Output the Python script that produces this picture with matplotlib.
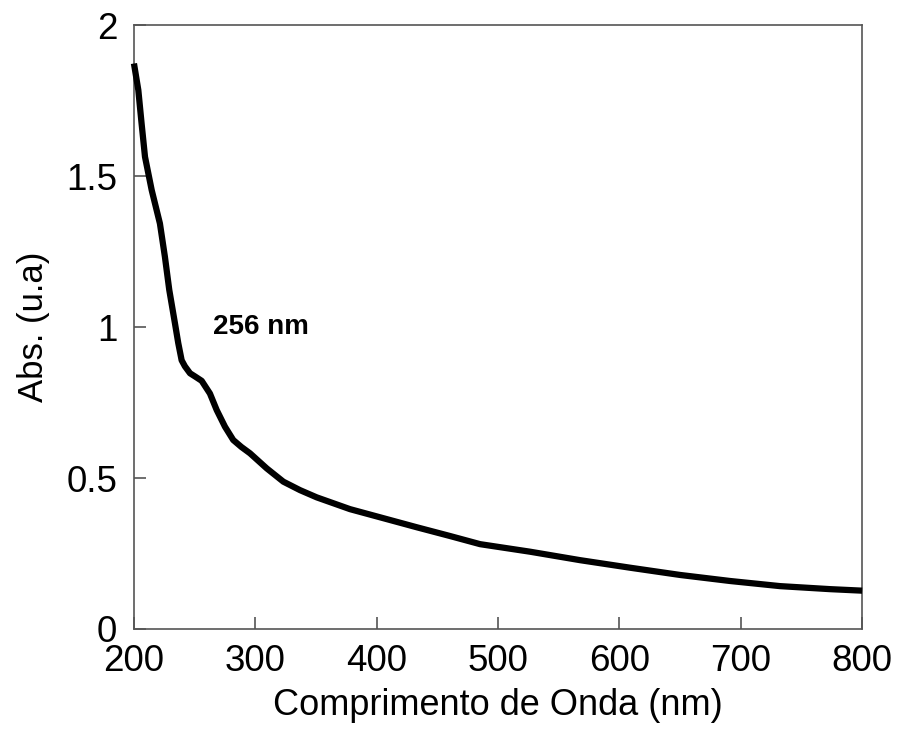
import matplotlib
matplotlib.use("Agg")
import matplotlib.pyplot as plt

# UV-Vis absorption spectrum
wavelength = [200, 203.6, 206.3, 209.1, 214.6, 221.4, 225.5, 229.1, 233.8, 236.5,
              239.3, 242, 246.2, 250.5, 255.8, 262.6, 268.2, 275, 281.8, 288.5,
              295.6, 309.4, 323.1, 336.8, 350.6, 378, 405.5, 433, 460.4, 485.2,
              526.4, 567.6, 608.8, 650, 691.2, 732.4, 773.6, 800]
absorbance = [1.873, 1.785, 1.674, 1.564, 1.454, 1.343, 1.233, 1.123, 1.012, 0.947,
              0.890, 0.870, 0.847, 0.836, 0.822, 0.780, 0.725, 0.670, 0.626, 0.603,
              0.582, 0.532, 0.488, 0.460, 0.436, 0.397, 0.367, 0.337, 0.308, 0.281,
              0.256, 0.228, 0.203, 0.179, 0.159, 0.142, 0.132, 0.127]

peak_label = "256 nm"

plt.rcParams['font.family'] = ['Liberation Sans', 'DejaVu Sans']

fig = plt.figure(figsize=(8.99, 7.40), dpi=100)
ax = fig.add_axes([0.149, 0.15, 0.81, 0.816])

ax.plot(wavelength, absorbance, color='black', lw=4.5, solid_capstyle='butt',
        solid_joinstyle='round', clip_on=False, zorder=3)

ax.set_xlim(200, 800)
ax.set_ylim(0, 2)
ax.set_xticks([200, 300, 400, 500, 600, 700, 800])
ax.set_yticks([0, 0.5, 1, 1.5, 2])
ax.set_yticklabels(["0", "0.5", "1", "1.5", "2"])

for s in ax.spines.values():
    s.set_color('#555555')
    s.set_linewidth(1.2)
ax.tick_params(direction='in', length=8.5, width=1.2, color='#555555',
               labelsize=26.5, top=False, right=False)
ax.tick_params(axis='x', pad=11)
ax.tick_params(axis='y', pad=12)

ax.set_xlabel("Comprimento de Onda (nm)", fontsize=26, labelpad=6)
ax.set_ylabel("Abs. (u.a)", fontsize=25, labelpad=12)

ax.text(265, 1.0, peak_label, fontsize=20, fontweight='bold', va='center', ha='left')

fig.savefig("out.png", dpi=100)
